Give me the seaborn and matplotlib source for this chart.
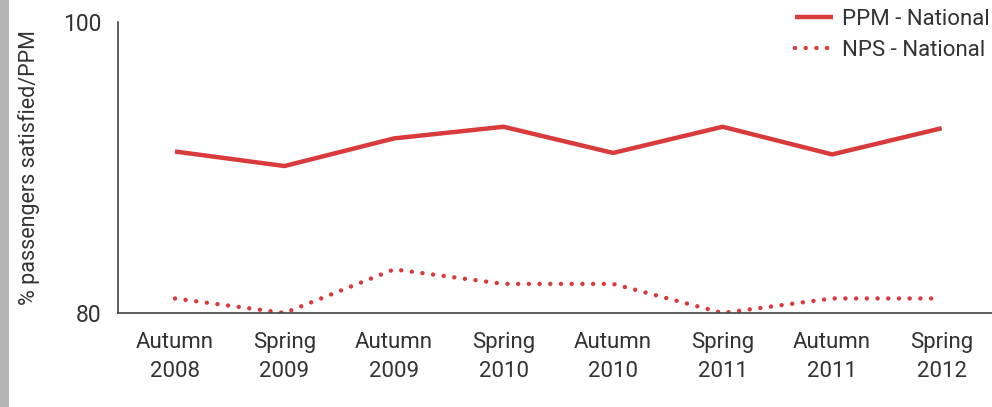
import matplotlib
matplotlib.use("Agg")
import matplotlib.pyplot as plt
import seaborn as sns
import pandas as pd
from matplotlib.patches import Rectangle

periods = ["Autumn\n2008", "Spring\n2009", "Autumn\n2009", "Spring\n2010",
           "Autumn\n2010", "Spring\n2011", "Autumn\n2011", "Spring\n2012"]
ppm = [91.1, 90.1, 92.0, 92.8, 91.0, 92.8, 90.9, 92.7]
nps = [81.0, 80.0, 83.0, 82.0, 82.0, 80.0, 81.0, 81.0]
series_names = ["PPM - National", "NPS - National"]

sns.set_theme(style="white")
plt.rcParams['font.family'] = ['Roboto', 'DejaVu Sans']

red = "#d93a3c"
txt = "#333333"

df = pd.DataFrame({
    "x": list(range(len(periods))) * 2,
    "value": ppm + nps,
    "series": [series_names[0]] * len(ppm) + [series_names[1]] * len(nps),
})

fig = plt.figure(figsize=(9.92, 4.07), dpi=100)
ax = fig.add_axes([118/992, (407-313)/407, 1 - 118/992 + 0.01, (313-22)/407])

d1 = df[df.series == series_names[0]]
d2 = df[df.series == series_names[1]]
sns.lineplot(data=d1, x="x", y="value", ax=ax, color=red, linewidth=3.2,
             label=series_names[0], solid_capstyle="butt")
sns.lineplot(data=d2, x="x", y="value", ax=ax, color=red, linewidth=3.2,
             label=series_names[1])
ax.lines[1].set_dashes([0.01, 2.4])
ax.lines[1].set_dash_capstyle("round")

ax.set_ylim(80, 100)
ax.set_xlim(-0.52, 7.55)
ax.set_yticks([80, 100])
ax.set_yticklabels(["80", "100"], fontsize=16.5, color=txt)
ax.set_xticks(range(len(periods)))
ax.set_xticklabels(periods, fontsize=16, color=txt, linespacing=1.5)
ax.set_xticks([i + 0.5 for i in range(len(periods) - 1)], minor=True)
ax.tick_params(axis="x", which="major", length=0, pad=14)
ax.tick_params(axis="x", which="minor", direction="in", length=7, width=1, color="#444444")
ax.tick_params(axis="y", which="major", direction="out", length=7, width=1, color="#444444", pad=5)
ax.set_xlabel("")
ax.set_ylabel("% passengers satisfied/PPM", fontsize=15.5, color=txt)
ax.yaxis.set_label_coords(-0.088, 0.5)

for s in ["top", "right"]:
    ax.spines[s].set_visible(False)
for s in ["left", "bottom"]:
    ax.spines[s].set_color("#444444")
    ax.spines[s].set_linewidth(1.2)

leg = ax.legend(loc="upper left", bbox_to_anchor=(786/992, 1.0), bbox_transform=fig.transFigure,
                frameon=False, fontsize=16, handlelength=1.7, handletextpad=0.4,
                labelspacing=0.45, borderaxespad=0)
for t in leg.get_texts():
    t.set_color(txt)
for h in leg.get_lines():
    h.set_linewidth(3.2)
leg.get_lines()[1].set_dashes([0.01, 2.4])
leg.get_lines()[1].set_dash_capstyle("round")

fig.patches.append(Rectangle((0, 0), 9/992, 1, transform=fig.transFigure,
                             facecolor="#b5b5b5", edgecolor="none"))

fig.savefig("out.png", dpi=100)
